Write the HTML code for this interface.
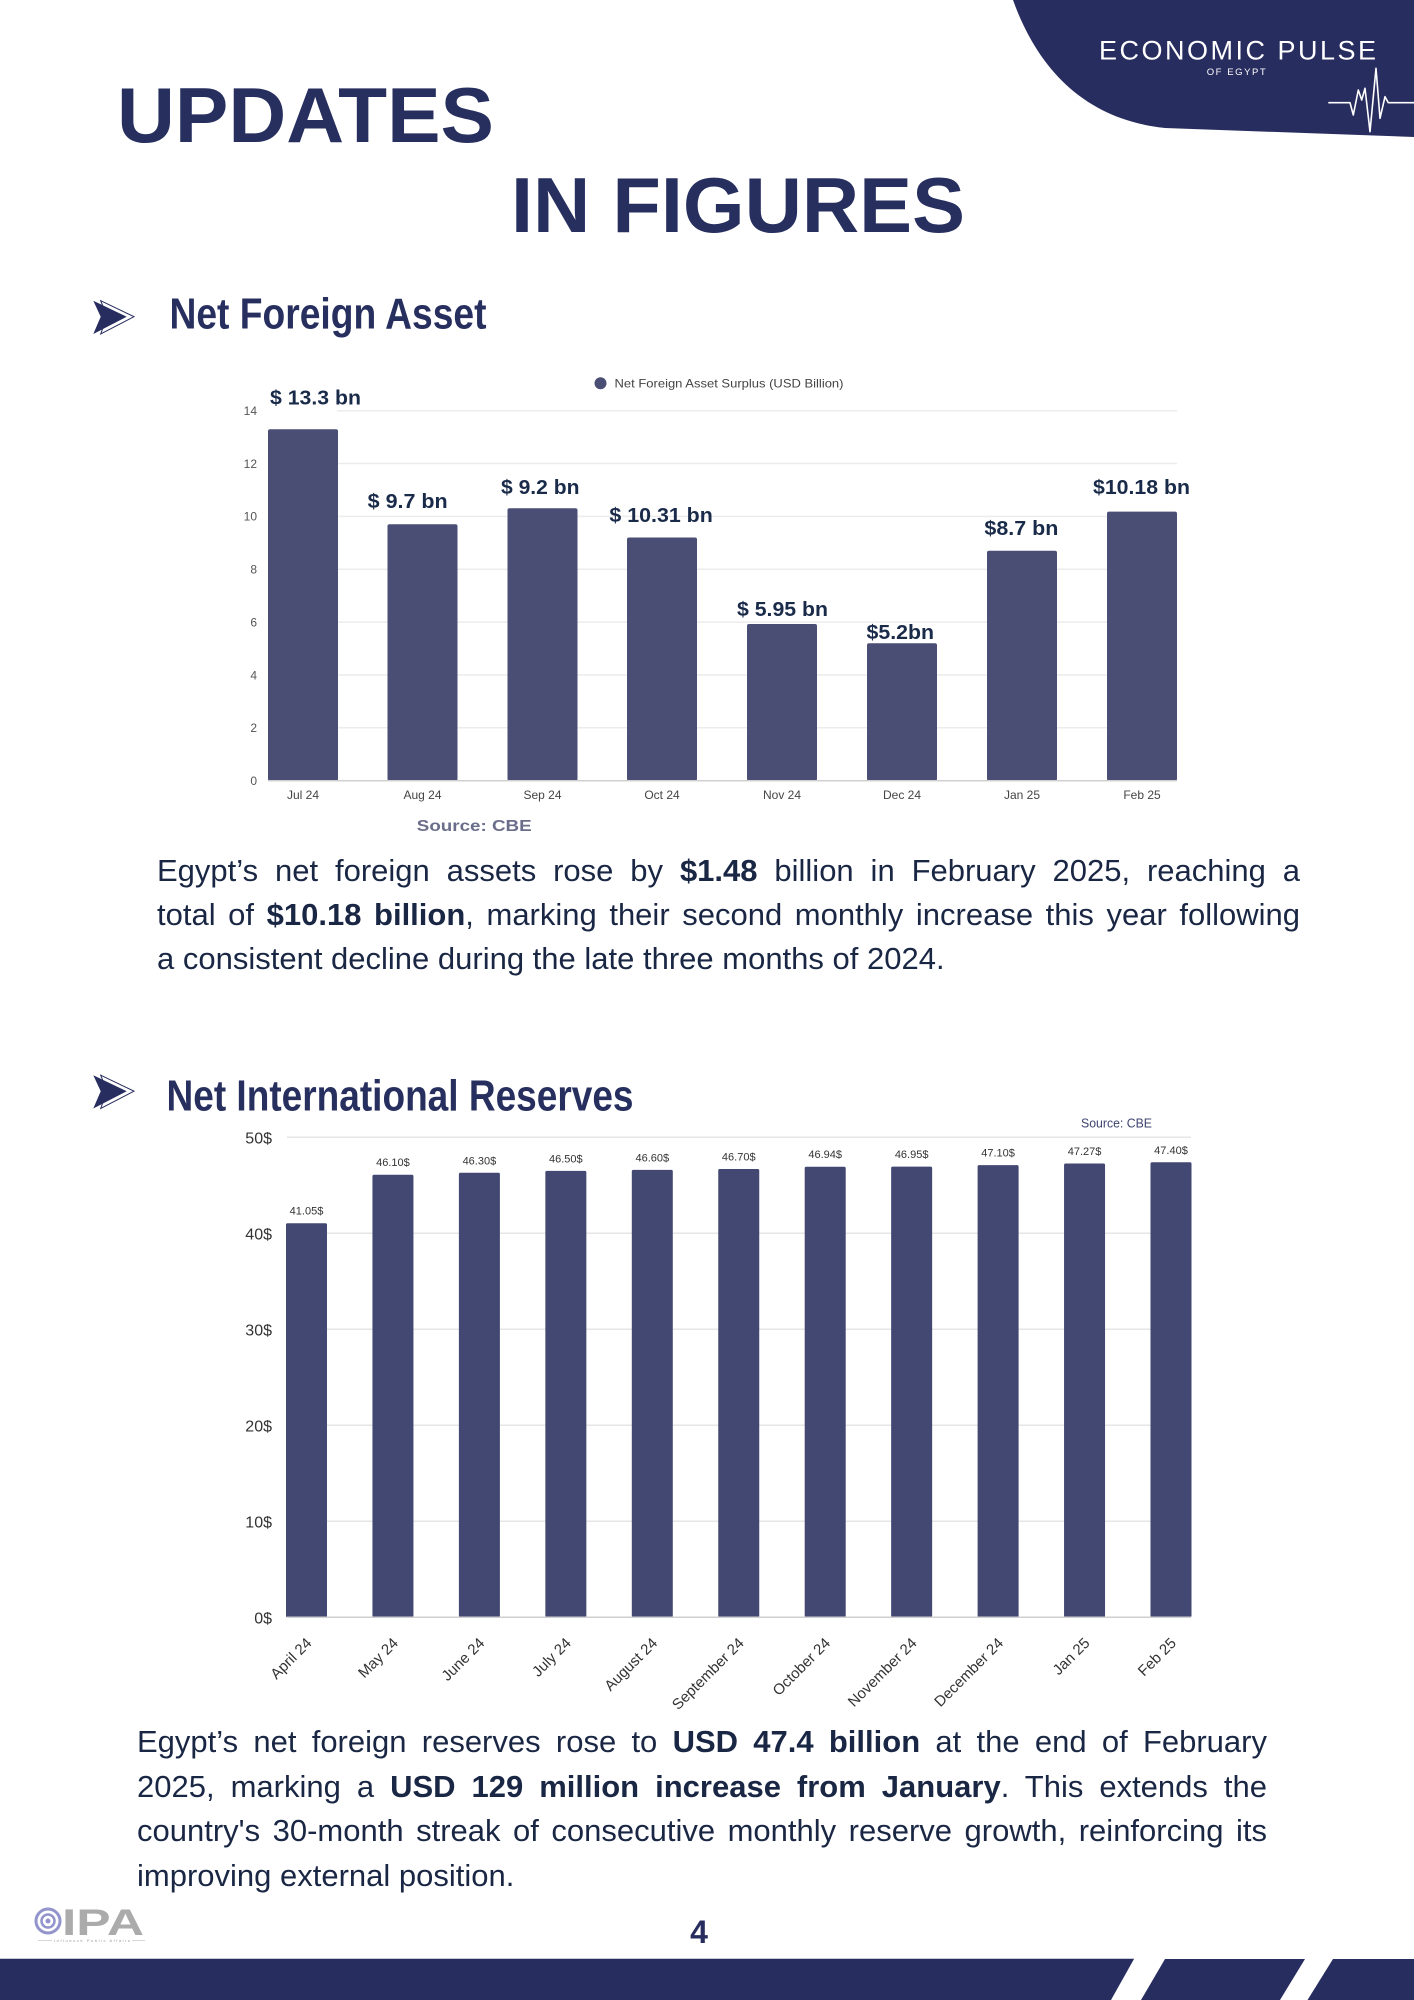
<!DOCTYPE html>
<html>
<head>
<meta charset="utf-8">
<style>
  html,body{margin:0;padding:0;background:#fff;}
  body{width:1414px;height:2000px;position:relative;overflow:hidden;font-family:"Liberation Sans",sans-serif;}
  svg{position:absolute;left:0;top:0;}
  .para{position:absolute;color:#1a2744;font-family:"Liberation Sans",sans-serif;font-size:31px;}
  .para div{white-space:normal;}
  .j{text-align:justify;text-align-last:justify;}
  .para b{font-weight:bold;}
</style>
</head>
<body>
<svg width="1414" height="2000" viewBox="0 0 1414 2000" xmlns="http://www.w3.org/2000/svg">
  <!-- top right header shape -->
  <path d="M1013,0 C1040,75 1090,120 1165,128 L1414,137 L1414,0 Z" fill="#282d5f"/>
  <text x="1099" y="59.3" font-family="Liberation Sans, sans-serif" font-size="27" fill="#ffffff" textLength="277" lengthAdjust="spacing">ECONOMIC PULSE</text>
  <text x="1206.7" y="75" font-family="Liberation Sans, sans-serif" font-size="9.5" fill="#ffffff" textLength="59" lengthAdjust="spacing">OF EGYPT</text>
  <polyline points="1328.3,102.7 1350,102.7 1353.3,115 1358.3,90 1361.7,100 1365,88.3 1370,131.7 1376,68.3 1380,118.3 1385,96.7 1388.3,102.7 1414,102.7" fill="none" stroke="#ffffff" stroke-width="1.6" stroke-linejoin="round"/>

  <!-- Title -->
  <text x="117" y="142" font-family="Liberation Sans, sans-serif" font-weight="bold" font-size="78" fill="#272f5f" textLength="377" lengthAdjust="spacingAndGlyphs">UPDATES</text>
  <text x="511" y="232" font-family="Liberation Sans, sans-serif" font-weight="bold" font-size="78" fill="#272f5f" textLength="454" lengthAdjust="spacingAndGlyphs">IN FIGURES</text>

  <!-- Section 1 heading -->
  <polygon points="100.7,300.7 134,316.7 100.7,334 107,316.7" fill="#ffffff" stroke="#282d5f" stroke-width="1"/>
  <polygon points="93.3,300.7 126.7,316.7 93.3,334 100.7,316.7" fill="#282d5f"/>
  <text x="169.5" y="328.5" font-family="Liberation Sans, sans-serif" font-weight="bold" font-size="44" fill="#272f5f" textLength="317" lengthAdjust="spacingAndGlyphs">Net Foreign Asset</text>

  <!-- Chart 1 -->
  <circle cx="600.5" cy="383.3" r="6" fill="#4a4e75"/>
  <text x="614.5" y="387.6" font-family="Liberation Sans, sans-serif" font-size="12" fill="#444" textLength="229" lengthAdjust="spacingAndGlyphs">Net Foreign Asset Surplus (USD Billion)</text>

  <g stroke="#ececec" stroke-width="1.5">
    <line x1="337" y1="410.7" x2="1177" y2="410.7"/>
    <line x1="337" y1="463.5" x2="1177" y2="463.5"/>
    <line x1="337" y1="516.4" x2="1177" y2="516.4"/>
    <line x1="337" y1="569.3" x2="1177" y2="569.3"/>
    <line x1="337" y1="622.1" x2="1177" y2="622.1"/>
    <line x1="337" y1="675" x2="1177" y2="675"/>
    <line x1="337" y1="727.8" x2="1177" y2="727.8"/>
  </g>
  <g font-family="Liberation Sans, sans-serif" font-size="12" fill="#555" text-anchor="end">
    <text x="257" y="415">14</text>
    <text x="257" y="467.8">12</text>
    <text x="257" y="520.7">10</text>
    <text x="257" y="573.6">8</text>
    <text x="257" y="626.4">6</text>
    <text x="257" y="679.3">4</text>
    <text x="257" y="732.1">2</text>
    <text x="257" y="785">0</text>
  </g>
  <g fill="#4a4e75">
    <rect x="268" y="429.2" width="70" height="351.5" rx="2"/>
    <rect x="387.5" y="524.3" width="70" height="256.4" rx="2"/>
    <rect x="507.5" y="508.2" width="70" height="272.5" rx="2"/>
    <rect x="627" y="537.5" width="70" height="243.2" rx="2"/>
    <rect x="747" y="624" width="70" height="156.7" rx="2"/>
    <rect x="867" y="643.3" width="70" height="137.4" rx="2"/>
    <rect x="987" y="550.8" width="70" height="229.9" rx="2"/>
    <rect x="1107" y="511.6" width="70" height="269.1" rx="2"/>
  </g>
  <line x1="268" y1="780.7" x2="1177" y2="780.7" stroke="#d0d0d0" stroke-width="1.5"/>
  <g font-family="Liberation Sans, sans-serif" font-size="12" fill="#444" text-anchor="middle">
    <text x="303" y="799">Jul 24</text>
    <text x="422.5" y="799">Aug 24</text>
    <text x="542.5" y="799">Sep 24</text>
    <text x="662" y="799">Oct 24</text>
    <text x="782" y="799">Nov 24</text>
    <text x="902" y="799">Dec 24</text>
    <text x="1022" y="799">Jan 25</text>
    <text x="1142" y="799">Feb 25</text>
  </g>
  <g font-family="Liberation Sans, sans-serif" font-size="20" font-weight="bold" fill="#1a2b4a">
    <text x="270" y="404.5" textLength="91" lengthAdjust="spacingAndGlyphs">$ 13.3 bn</text>
    <text x="367.7" y="508" textLength="80" lengthAdjust="spacingAndGlyphs">$ 9.7 bn</text>
    <text x="501" y="494" textLength="78.5" lengthAdjust="spacingAndGlyphs">$ 9.2 bn</text>
    <text x="609.4" y="522" textLength="103.4" lengthAdjust="spacingAndGlyphs">$ 10.31 bn</text>
    <text x="737" y="616" textLength="91" lengthAdjust="spacingAndGlyphs">$ 5.95 bn</text>
    <text x="866.5" y="639" textLength="67.5" lengthAdjust="spacingAndGlyphs">$5.2bn</text>
    <text x="984.4" y="535" textLength="74" lengthAdjust="spacingAndGlyphs">$8.7 bn</text>
    <text x="1093" y="494" textLength="97" lengthAdjust="spacingAndGlyphs">$10.18 bn</text>
  </g>
  <text x="416.8" y="831" font-family="Liberation Sans, sans-serif" font-size="16" font-weight="bold" fill="#6a6e8a" textLength="114.8" lengthAdjust="spacingAndGlyphs">Source: CBE</text>

  <!-- Section 2 heading -->
  <polygon points="100.7,1075.2 134,1091.2 100.7,1108.5 107,1091.2" fill="#ffffff" stroke="#282d5f" stroke-width="1"/>
  <polygon points="93.3,1075.2 126.7,1091.2 93.3,1108.5 100.7,1091.2" fill="#282d5f"/>
  <text x="166.5" y="1110.7" font-family="Liberation Sans, sans-serif" font-weight="bold" font-size="44" fill="#272f5f" textLength="467" lengthAdjust="spacingAndGlyphs">Net International Reserves</text>

  <!-- Chart 2 -->
  <text x="1081" y="1127.5" font-family="Liberation Sans, sans-serif" font-size="13" fill="#3e4470" textLength="71" lengthAdjust="spacingAndGlyphs">Source: CBE</text>
  <g stroke="#e6e6e6" stroke-width="1.5">
    <line x1="287" y1="1137.3" x2="1191" y2="1137.3"/>
    <line x1="287" y1="1233.3" x2="1191" y2="1233.3"/>
    <line x1="287" y1="1329.3" x2="1191" y2="1329.3"/>
    <line x1="287" y1="1425.3" x2="1191" y2="1425.3"/>
    <line x1="287" y1="1521.3" x2="1191" y2="1521.3"/>
  </g>
  <g font-family="Liberation Sans, sans-serif" font-size="16" fill="#333" text-anchor="end">
    <text x="272" y="1143.3">50$</text>
    <text x="272" y="1239.3">40$</text>
    <text x="272" y="1335.3">30$</text>
    <text x="272" y="1431.3">20$</text>
    <text x="272" y="1527.3">10$</text>
    <text x="272" y="1623.3">0$</text>
  </g>
  <g fill="#434872">
    <rect x="286" y="1223.2" width="41" height="394.1" rx="1.5"/>
    <rect x="372.45" y="1174.7" width="41" height="442.6" rx="1.5"/>
    <rect x="458.9" y="1172.8" width="41" height="444.5" rx="1.5"/>
    <rect x="545.35" y="1170.9" width="41" height="446.4" rx="1.5"/>
    <rect x="631.8" y="1169.9" width="41" height="447.4" rx="1.5"/>
    <rect x="718.25" y="1169.0" width="41" height="448.3" rx="1.5"/>
    <rect x="804.7" y="1166.7" width="41" height="450.6" rx="1.5"/>
    <rect x="891.15" y="1166.6" width="41" height="450.7" rx="1.5"/>
    <rect x="977.6" y="1165.1" width="41" height="452.2" rx="1.5"/>
    <rect x="1064.05" y="1163.5" width="41" height="453.8" rx="1.5"/>
    <rect x="1150.5" y="1162.3" width="41" height="455" rx="1.5"/>
  </g>
  <line x1="287" y1="1617.3" x2="1191" y2="1617.3" stroke="#cfcfcf" stroke-width="1.5"/>
  <g font-family="Liberation Sans, sans-serif" font-size="11" fill="#333" text-anchor="middle">
    <text x="306.5" y="1214.7">41.05$</text>
    <text x="392.95" y="1166.2">46.10$</text>
    <text x="479.4" y="1164.3">46.30$</text>
    <text x="565.85" y="1162.4">46.50$</text>
    <text x="652.3" y="1161.4">46.60$</text>
    <text x="738.75" y="1160.5">46.70$</text>
    <text x="825.2" y="1158.2">46.94$</text>
    <text x="911.65" y="1158.1">46.95$</text>
    <text x="998.1" y="1156.6">47.10$</text>
    <text x="1084.55" y="1155">47.27$</text>
    <text x="1171" y="1153.8">47.40$</text>
  </g>
  <g font-family="Liberation Sans, sans-serif" font-size="15" fill="#333" text-anchor="end">
    <text transform="translate(312.5,1644) rotate(-45)">April 24</text>
    <text transform="translate(399,1644) rotate(-45)">May 24</text>
    <text transform="translate(485.4,1644) rotate(-45)">June 24</text>
    <text transform="translate(571.9,1644) rotate(-45)">July 24</text>
    <text transform="translate(658.3,1644) rotate(-45)">August 24</text>
    <text transform="translate(744.8,1644) rotate(-45)">September 24</text>
    <text transform="translate(831.2,1644) rotate(-45)">October 24</text>
    <text transform="translate(917.7,1644) rotate(-45)">November 24</text>
    <text transform="translate(1004.1,1644) rotate(-45)">December 24</text>
    <text transform="translate(1090.6,1644) rotate(-45)">Jan 25</text>
    <text transform="translate(1177,1644) rotate(-45)">Feb 25</text>
  </g>

  <!-- IPA logo -->
  <circle cx="48" cy="1921" r="12" fill="none" stroke="#9294cb" stroke-width="3"/>
  <circle cx="48" cy="1921" r="6.5" fill="none" stroke="#9294cb" stroke-width="2.5"/>
  <circle cx="48" cy="1921" r="2.5" fill="#9294cb"/>
  <text x="62" y="1935" font-family="Liberation Sans, sans-serif" font-weight="bold" font-size="37" fill="#ababab" textLength="82" lengthAdjust="spacingAndGlyphs">IPA</text>
  <line x1="38" y1="1940.5" x2="52" y2="1940.5" stroke="#bbb" stroke-width="0.6"/>
  <line x1="132" y1="1940.5" x2="145" y2="1940.5" stroke="#bbb" stroke-width="0.6"/>
  <text x="54" y="1942" font-family="Liberation Sans, sans-serif" font-size="4" fill="#999" textLength="76" lengthAdjust="spacing">Influence Public Affairs</text>

  <!-- page number -->
  <text x="699" y="1943" text-anchor="middle" font-family="Liberation Sans, sans-serif" font-weight="bold" font-size="32" fill="#282d5f">4</text>

  <!-- footer band -->
  <line x1="0" y1="1958.5" x2="1134" y2="1958.5" stroke="#c9cad8" stroke-width="1"/>
  <polygon points="0,1959 1134,1959 1111,2000 0,2000" fill="#282d5f"/>
  <polygon points="1165,1959 1305,1959 1280,2000 1141,2000" fill="#282d5f"/>
  <polygon points="1333,1959 1414,1959 1414,2000 1307.5,2000" fill="#282d5f"/>
</svg>

<div class="para" style="left:157px;top:849px;width:1143px;line-height:44.2px;">
  <div class="j">Egypt’s net foreign assets rose by <b>$1.48</b> billion in February 2025, reaching a</div>
  <div class="j">total of <b>$10.18 billion</b>, marking their second monthly increase this year following</div>
  <div>a consistent decline during the late three months of 2024.</div>
</div>

<div class="para" style="left:137px;top:1720px;width:1130px;line-height:44.6px;">
  <div class="j">Egypt’s net foreign reserves rose to <b>USD 47.4 billion</b> at the end of February</div>
  <div class="j">2025, marking a <b>USD 129 million increase from January</b>. This extends the</div>
  <div class="j">country's 30-month streak of consecutive monthly reserve growth, reinforcing its</div>
  <div>improving external position.</div>
</div>
</body>
</html>
